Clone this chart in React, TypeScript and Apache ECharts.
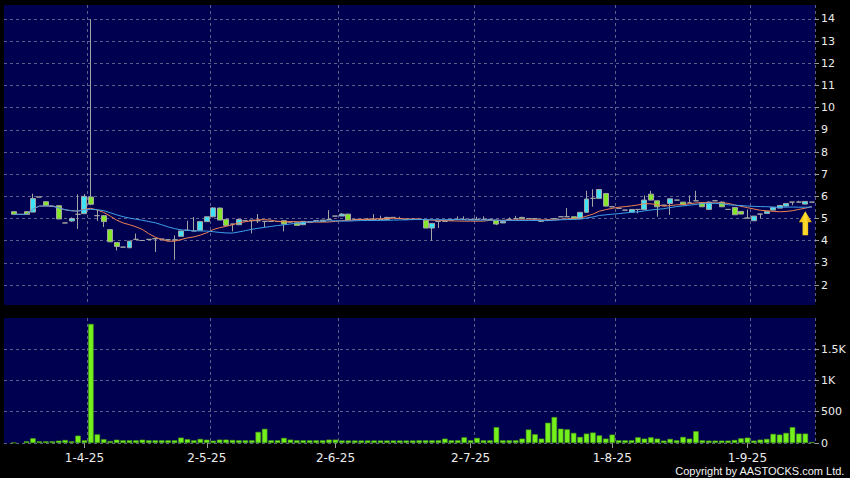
import React, { useEffect, useRef } from 'react';
import * as echarts from 'echarts';

// ---- categories: HK trading days 14-Mar-2025 .. 15-Sep-2025 ----
const START_DATE = '2025-03-14';
const END_DATE = '2025-09-15';
const HOLIDAYS = ['2025-04-04', '2025-04-18', '2025-04-21', '2025-05-01', '2025-05-05', '2025-07-01'];

// ---- price data: [open, close, low, high] (null = no trade) ----
const OHLC: ([number, number, number, number] | null)[] = [
  null, [5.31, 5.19, 5.19, 5.31], null, [5.31, 5.19, 5.19, 5.31], [5.29, 5.9, 5.29, 6.12],
  [5.97, 5.97, 5.97, 5.97], [5.76, 5.58, 5.58, 5.76], [5.55, 5.55, 5.55, 5.55], [5.58, 4.98, 4.98, 5.58], [4.8, 4.8, 4.8, 4.8],
  [4.89, 5.0, 4.85, 5.05], [5.19, 5.19, 4.53, 6.09], [5.22, 6.0, 5.2, 6.1], [5.97, 5.64, 5.6, 14.0], [5.13, 5.13, 4.89, 5.4],
  [5.13, 4.86, 4.62, 5.13], [4.5, 3.95, 3.95, 4.5], [3.92, 3.74, 3.56, 3.92], [3.71, 3.71, 3.71, 3.71], [3.68, 3.98, 3.68, 3.98],
  [4.06, 4.06, 4.06, 4.32], [4.01, 4.01, 4.01, 4.01], [4.06, 4.06, 4.06, 4.06], [4.09, 4.09, 3.49, 4.09], [4.07, 4.07, 4.07, 4.07],
  [4.04, 4.04, 4.04, 4.04], [4.04, 4.04, 3.14, 4.24], [4.2, 4.44, 4.2, 4.44], [4.47, 4.47, 4.47, 4.9], [4.44, 4.44, 4.44, 5.07],
  [4.47, 4.86, 4.47, 4.86], [4.86, 5.08, 4.86, 5.08], [5.08, 5.48, 5.05, 5.5], [5.47, 4.93, 4.93, 5.5], [4.96, 4.69, 4.69, 4.96],
  [4.75, 4.75, 4.42, 4.75], [4.72, 4.96, 4.72, 4.96], [4.9, 4.9, 4.9, 4.9], [4.9, 4.93, 4.33, 4.93], [4.9, 4.9, 4.8, 5.2],
  [4.87, 4.87, 4.6, 4.87], [4.87, 4.87, 4.87, 4.87], [4.87, 4.87, 4.87, 4.87], [4.9, 4.75, 4.42, 4.9], [4.84, 4.84, 4.84, 4.84],
  [4.81, 4.69, 4.69, 4.81], [4.72, 4.87, 4.72, 4.87], [4.84, 4.84, 4.84, 4.84], [4.9, 4.9, 4.9, 4.9], [4.93, 4.87, 4.87, 4.93],
  [4.96, 4.96, 4.96, 5.38], [5.11, 5.11, 5.11, 5.11], [5.11, 5.2, 5.11, 5.25], [5.2, 4.93, 4.93, 5.2], [4.96, 4.96, 4.96, 4.96],
  [4.96, 4.96, 4.96, 4.96], [4.96, 4.96, 4.96, 5.02], [4.96, 4.96, 4.96, 5.2], [4.96, 4.96, 4.96, 5.13], [4.96, 5.05, 4.96, 5.08],
  [5.05, 5.05, 5.05, 5.05], [5.0, 5.0, 5.0, 5.08], [4.96, 4.96, 4.96, 4.96], [4.96, 4.96, 4.96, 5.02], [4.96, 4.96, 4.96, 4.96],
  [4.93, 4.57, 4.57, 4.93], [4.57, 4.78, 4.0, 4.78], [4.87, 4.87, 4.57, 4.87], [4.87, 4.87, 4.87, 4.9], [4.93, 4.93, 4.93, 5.0],
  [4.96, 4.96, 4.96, 5.1], [4.96, 4.96, 4.96, 5.1], [4.96, 4.96, 4.96, 4.96], [4.96, 4.96, 4.96, 5.08], [4.96, 4.96, 4.96, 5.1],
  [4.96, 4.96, 4.96, 4.96], [4.93, 4.75, 4.7, 4.93], [4.8, 4.87, 4.8, 4.87], [4.96, 4.96, 4.96, 5.05], [4.99, 4.99, 4.99, 5.12],
  [5.05, 4.99, 4.99, 5.08], [5.0, 5.0, 4.98, 5.0], [4.99, 4.99, 4.99, 4.99], [4.93, 4.87, 4.87, 4.93], [4.93, 4.93, 4.93, 4.96],
  [4.99, 4.99, 4.99, 5.02], [5.08, 5.08, 5.08, 5.1], [5.08, 5.08, 5.08, 5.47], [5.08, 4.99, 4.99, 5.08], [4.99, 5.28, 4.99, 5.28],
  [5.28, 5.88, 5.28, 6.25], [5.91, 5.91, 5.53, 6.32], [5.91, 6.31, 5.91, 6.31], [6.13, 5.56, 5.56, 6.13], [5.53, 5.53, 5.53, 5.53],
  [5.46, 5.46, 5.46, 5.46], [5.38, 5.38, 5.38, 5.38], [5.29, 5.41, 5.29, 5.41], [5.41, 5.41, 5.23, 5.41], [5.41, 5.83, 5.41, 6.04],
  [6.1, 5.83, 5.83, 6.25], [5.8, 5.53, 5.08, 5.8], [5.6, 5.6, 5.6, 5.6], [5.68, 5.89, 5.17, 5.89], [5.83, 5.83, 5.83, 5.83],
  [5.74, 5.62, 5.62, 5.74], [5.71, 5.71, 5.71, 6.04], [5.8, 5.8, 5.8, 6.25], [5.71, 5.53, 5.53, 5.71], [5.41, 5.74, 5.41, 5.77],
  [5.8, 5.8, 5.8, 5.8], [5.74, 5.53, 5.53, 5.77], [5.41, 5.41, 5.41, 5.41], [5.5, 5.17, 5.17, 5.5], [5.32, 5.2, 5.2, 5.32],
  [5.02, 5.02, 5.02, 5.41], [4.9, 5.11, 4.9, 5.11], [5.2, 5.2, 5.02, 5.2], [5.23, 5.32, 5.23, 5.32], [5.38, 5.5, 5.38, 5.5],
  [5.47, 5.59, 5.47, 5.59], [5.56, 5.68, 5.56, 5.68], [5.74, 5.74, 5.6, 5.74], [5.74, 5.74, 5.74, 5.8], [5.65, 5.77, 5.65, 5.77],
  [5.74, 5.74, 5.74, 5.74],
];

// ---- volume (thousands of shares) ----
const VOLUME: (number | null)[] = [
  null, 5, null, 27, 75, 27, 27, 27, 37, 48,
  27, 118, 43, 1900, 138, 60, 32, 53, 43, 43,
  43, 53, 43, 43, 43, 43, 43, 86, 60, 43,
  65, 53, 37, 54, 54, 48, 43, 43, 43, 178,
  226, 43, 43, 81, 54, 43, 43, 43, 43, 43,
  54, 54, 40, 40, 40, 40, 40, 40, 40, 40,
  40, 40, 40, 40, 43, 43, 43, 43, 70, 43,
  43, 91, 43, 81, 43, 43, 253, 43, 43, 43,
  70, 215, 140, 70, 323, 414, 228, 218, 161, 97,
  150, 167, 121, 70, 134, 43, 43, 43, 91, 70,
  91, 70, 38, 65, 43, 97, 70, 188, 43, 38,
  38, 38, 38, 48, 75, 86, 38, 54, 65, 145,
  134, 161, 253, 150, 150, 16,
];

const MA_FAST = 10;
const MA_SLOW = 20;
const ARROW_INDEX = 124;
const ARROW_PRICE = 5.33;

const PRICE_MIN = 1.1;
const PRICE_MAX = 14.63;
const VOL_MAX = 1995;

function buildDates(): string[] {
  const out: string[] = [];
  const d = new Date(START_DATE + 'T00:00:00Z');
  const end = new Date(END_DATE + 'T00:00:00Z');
  while (d <= end) {
    const iso = d.toISOString().slice(0, 10);
    const wd = d.getUTCDay();
    if (wd !== 0 && wd !== 6 && !HOLIDAYS.includes(iso)) out.push(iso);
    d.setUTCDate(d.getUTCDate() + 1);
  }
  return out;
}

function movingAverage(closes: (number | null)[], n: number): (number | null)[] {
  return closes.map((_, i) => {
    const win: number[] = [];
    for (let j = i; j >= 0 && win.length < n; j--) {
      const c = closes[j];
      if (c != null) win.push(c);
    }
    if (!win.length) return null;
    return +(win.reduce((a, b) => a + b, 0) / win.length).toFixed(3);
  });
}

export default function App() {
  const ref = useRef<HTMLDivElement>(null);

  useEffect(() => {
    if (!ref.current) return;
    const chart = echarts.init(ref.current, null, { renderer: 'svg' });

    const iso = buildDates();
    const dates = iso.map((s) => {
      const [y, m, d] = s.split('-');
      return `${+d}-${+m}-${y.slice(2)}`;
    });
    const labelIdx = iso
      .map((s, i) => (i > 0 && s.slice(5, 7) !== iso[i - 1].slice(5, 7) ? i : -1))
      .filter((i) => i >= 0);
    const splitIdx = labelIdx.map((i) => i + 1);

    const CYAN = '#3fe3f6';
    const GREEN = '#86e62c';
    const GREY = '#a4a4a4';
    const GRID_LINE = '#5e5e8a';

    const candleData = OHLC.map((c) => {
      if (!c) return ['-', '-', '-', '-'];
      if (c[0] === c[1]) {
        return { value: c, itemStyle: { color: GREY, color0: GREY, borderColor: GREY, borderColor0: GREY } };
      }
      return c;
    });
    const closes = OHLC.map((c) => (c ? c[1] : null));
    const maFast = movingAverage(closes, MA_FAST);
    const maSlow = movingAverage(closes, MA_SLOW);

    const splitLineCfg = {
      show: true,
      interval: (i: number) => splitIdx.includes(i),
      lineStyle: { color: GRID_LINE, type: [3, 3] as any, width: 1 },
    };

    const font = 'DejaVu Sans';

    chart.setOption({
      animation: false,
      backgroundColor: '#000000',
      textStyle: { fontFamily: font },
      grid: [
        { left: 4, right: 35, top: 5, height: 300, show: true, backgroundColor: '#000050', borderWidth: 0 },
        { left: 4, right: 35, top: 318, height: 125, show: true, backgroundColor: '#000050', borderWidth: 0 },
      ],
      xAxis: [
        {
          type: 'category', gridIndex: 0, data: dates, boundaryGap: true,
          axisLine: { show: false }, axisTick: { show: false }, axisLabel: { show: false },
          splitLine: splitLineCfg,
        },
        {
          type: 'category', gridIndex: 1, data: dates, boundaryGap: true,
          axisLine: { show: false },
          axisTick: {
            show: true, alignWithLabel: true, length: 5,
            interval: (i: number) => labelIdx.includes(i),
            lineStyle: { color: '#9a9a9a' },
          },
          axisLabel: {
            show: true, interval: (i: number) => labelIdx.includes(i),
            color: '#ececec', fontSize: 12, margin: 9, fontFamily: font,
          },
          splitLine: splitLineCfg,
        },
      ],
      yAxis: [
        {
          type: 'value', gridIndex: 0, position: 'right', min: PRICE_MIN, max: PRICE_MAX,
          splitNumber: 13, minInterval: 1, maxInterval: 1,
          axisLine: { show: false },
          axisTick: { show: true, length: 4, lineStyle: { color: '#9a9a9a' } },
          axisLabel: {
            color: '#ececec', fontSize: 11, margin: 6, fontFamily: font,
            showMinLabel: false, showMaxLabel: false,
            formatter: (v: number) => String(Math.round(v)),
          },
          splitLine: { show: true, showMinLine: false, showMaxLine: false, lineStyle: { color: GRID_LINE, type: [3, 3] as any } },
        },
        {
          type: 'value', gridIndex: 1, position: 'right', min: 0, max: VOL_MAX,
          splitNumber: 4, minInterval: 500, maxInterval: 500,
          axisLine: { show: false },
          axisTick: { show: true, length: 4, lineStyle: { color: '#9a9a9a' } },
          axisLabel: {
            color: '#ececec', fontSize: 11, margin: 6, fontFamily: font,
            showMaxLabel: false,
            formatter: (v: number) => (v >= 1000 ? `${v / 1000}K` : String(v)),
          },
          splitLine: { show: true, showMaxLine: false, lineStyle: { color: GRID_LINE, type: [3, 3] as any } },
        },
      ],
      series: [
        {
          type: 'candlestick', name: 'Price', xAxisIndex: 0, yAxisIndex: 0,
          data: candleData, barWidth: '85%',
          itemStyle: { color: CYAN, color0: GREEN, borderColor: GREY, borderColor0: GREY, borderWidth: 1 },
          markPoint: {
            symbol: 'path://M6.5,0 L13,11 L9.3,11 L9.3,24 L3.7,24 L3.7,11 L0,11 Z',
            symbolSize: [13, 24],
            symbolOffset: [0, '50%'],
            label: { show: false },
            itemStyle: {
              color: new echarts.graphic.LinearGradient(0, 0, 1, 0, [
                { offset: 0, color: '#f0b000' },
                { offset: 0.5, color: '#ffe030' },
                { offset: 1, color: '#e09a00' },
              ]),
            },
            data: [{ coord: [dates[ARROW_INDEX], ARROW_PRICE] }],
          },
          z: 3,
        },
        {
          type: 'line', name: `MA${MA_FAST}`, xAxisIndex: 0, yAxisIndex: 0, data: maFast,
          showSymbol: false, symbol: 'none', connectNulls: true,
          lineStyle: { color: '#ee8050', width: 1 }, z: 4,
        },
        {
          type: 'line', name: `MA${MA_SLOW}`, xAxisIndex: 0, yAxisIndex: 0, data: maSlow,
          showSymbol: false, symbol: 'none', connectNulls: true,
          lineStyle: { color: '#3fa0ea', width: 1 }, z: 4,
        },
        {
          type: 'bar', name: 'Volume', xAxisIndex: 1, yAxisIndex: 1,
          data: VOLUME.map((v) => (v == null ? '-' : v)),
          barWidth: '85%',
          itemStyle: { color: '#74f01c', borderColor: '#4aa012', borderWidth: 0.6 },
        },
      ],
      graphic: [
        {
          type: 'text', right: 5, bottom: 2,
          style: { text: 'Copyright by AASTOCKS.com Ltd.', fill: '#f4f4f4', font: '11px "Liberation Sans"' },
        },
      ],
    });

    return () => chart.dispose();
  }, []);

  return (
    <div
      ref={ref}
      style={{ position: 'fixed', left: 0, top: 0, width: 850, height: 478, background: '#000' }}
    />
  );
}
